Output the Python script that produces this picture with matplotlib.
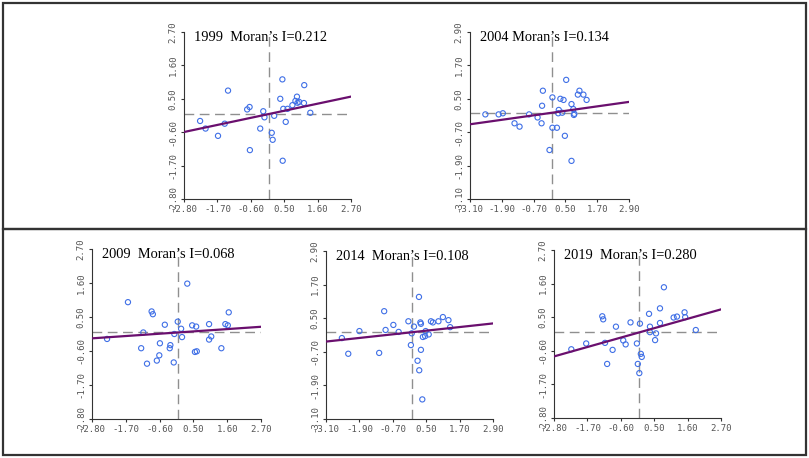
import numpy as np
import matplotlib
matplotlib.use('Agg')
import matplotlib.pyplot as plt
from matplotlib.patches import Rectangle

# === DATA (standardised values) ===
years = ['1999', '2004', '2009', '2014', '2019']
morans_i = [0.212, 0.134, 0.068, 0.108, 0.280]

x_1999 = [-2.27, -2.09, -1.68, -1.46, -1.35, -0.72, -0.64, -0.63, -0.29, -0.19,
          -0.15, 0.09, 0.12, 0.17, 0.37, 0.44, 0.45, 0.47, 0.55, 0.61,
          0.77, 0.87, 0.92, 0.94, 0.99, 1.16, 1.15, 1.36]
y_1999 = [-0.23, -0.48, -0.72, -0.32, 0.77, 0.15, 0.23, -1.19, -0.48, 0.09,
          -0.11, -0.62, -0.85, -0.06, 0.50, 1.14, -1.54, 0.17, -0.26, 0.17,
          0.29, 0.43, 0.57, 0.37, 0.40, 0.95, 0.36, 0.04]

x_2004 = [-2.52, -2.02, -1.86, -1.42, -1.23, -0.87, -0.55, -0.40, -0.38, -0.35,
          -0.10, 0.01, 0.01, 0.18, 0.23, 0.25, 0.31, 0.38, 0.43, 0.48,
          0.53, 0.73, 0.73, 0.80, 0.82, 0.84, 0.97, 1.03, 1.18, 1.30]
y_2004 = [-0.06, -0.06, -0.02, -0.38, -0.50, -0.06, -0.17, -0.38, 0.25, 0.79,
          -1.34, 0.55, -0.54, -0.54, -0.02, 0.10, 0.50, 0.00, 0.46, -0.83,
          1.18, 0.31, -1.73, 0.13, -0.08, -0.04, 0.65, 0.79, 0.65, 0.46]

x_2009 = [-2.31, -1.63, -1.20, -1.13, -1.01, -0.86, -0.82, -0.69, -0.61, -0.59,
          -0.43, -0.27, -0.25, -0.14, -0.12, -0.01, 0.10, 0.13, 0.30, 0.46,
          0.59, 0.55, 0.61, 1.01, 1.01, 1.08, 1.41, 1.54, 1.62, 1.65]
y_2009 = [-0.21, 0.98, -0.51, 0.00, -1.01, 0.68, 0.59, -0.91, -0.74, -0.35,
          0.25, -0.51, -0.41, -0.97, -0.05, 0.35, 0.12, -0.15, 1.58, 0.23,
          0.19, -0.63, -0.61, 0.27, -0.23, -0.13, -0.51, 0.27, 0.23, 0.65]

x_2014 = [-2.53, -2.30, -1.90, -1.19, -1.01, -0.96, -0.68, -0.49, -0.14, -0.05,
          -0.02, 0.06, 0.19, 0.24, 0.25, 0.29, 0.31, 0.31, 0.36, 0.38,
          0.46, 0.48, 0.59, 0.67, 0.74, 0.94, 1.10, 1.30, 1.36]
y_2014 = [-0.21, -0.77, 0.04, -0.74, 0.75, 0.08, 0.26, 0.01, 0.39, -0.46,
          -0.04, 0.20, -1.02, 1.26, -1.36, 0.35, 0.30, -0.63, -2.40, -0.17,
          -0.14, 0.04, -0.08, 0.39, 0.35, 0.39, 0.54, 0.43, 0.18]

x_2019 = [-2.23, -1.74, -1.21, -1.18, -1.12, -1.05, -0.87, -0.76, -0.52, -0.44,
          -0.28, -0.07, -0.04, 0.01, 0.03, 0.06, 0.09, 0.33, 0.36, 0.36,
          0.53, 0.56, 0.69, 0.69, 0.82, 1.14, 1.25, 1.50, 1.52, 1.87]
y_2019 = [-0.55, -0.36, 0.53, 0.43, -0.34, -1.03, -0.57, 0.19, -0.26, -0.39,
          0.33, -0.36, -1.03, -1.33, 0.29, -0.70, -0.80, 0.61, 0.19, 0.01,
          -0.25, -0.03, 0.79, 0.31, 1.48, 0.49, 0.52, 0.66, 0.50, 0.08]

ticks_a = [-2.80, -1.70, -0.60, 0.50, 1.60, 2.70]
ticks_b = [-3.10, -1.90, -0.70, 0.50, 1.70, 2.90]

xs = [x_1999, x_2004, x_2009, x_2014, x_2019]
ys = [y_1999, y_2004, y_2009, y_2014, y_2019]
tick_sets = [ticks_a, ticks_b, ticks_a, ticks_b, ticks_a]
titles = ['1999  Moran\u2019s I=0.212', '2004 Moran\u2019s I=0.134',
          '2009  Moran\u2019s I=0.068', '2014  Moran\u2019s I=0.108',
          '2019  Moran\u2019s I=0.280']

# axes boxes in pixels: left, top, right, bottom
boxes = [(184, 32, 351, 199), (470, 32, 629, 199),
         (92, 249, 261, 419), (326, 251, 493, 419),
         (554, 250, 721, 418)]

W, H = 809, 458
fig = plt.figure(figsize=(W / 100, H / 100), dpi=100)

# outer frames
for (x0, y0, x1, y1) in [(3, 3, 806, 229), (3, 229, 806, 455)]:
    fig.patches.append(Rectangle((x0 / W, 1 - y1 / H), (x1 - x0) / W, (y1 - y0) / H,
                                 transform=fig.transFigure, fill=False,
                                 edgecolor='#333333', linewidth=1.6))

for i in range(5):
    x0, y0, x1, y1 = boxes[i]
    ax = fig.add_axes([x0 / W, 1 - y1 / H, (x1 - x0) / W, (y1 - y0) / H])
    t = tick_sets[i]
    lo, hi = t[0], t[-1]

    # quadrant dividers
    ax.axvline(0, color='#8f8f8f', linestyle=(0, (7, 4)), linewidth=1.0, zorder=1)
    ax.axhline(0, color='#8f8f8f', linestyle=(0, (7, 4)), linewidth=1.0, zorder=1)

    ax.scatter(xs[i], ys[i], s=14, facecolors='none', edgecolors='#3f6fe6',
               linewidths=0.8, zorder=3)

    # fitted line, slope = Moran's I
    line_x = np.array([lo, hi])
    ax.plot(line_x, morans_i[i] * line_x, color='#6a0f6e', linewidth=1.6, zorder=4)

    ax.set_xlim(lo, hi)
    ax.set_ylim(lo, hi)
    ax.set_xticks(t)
    ax.set_yticks(t)
    ax.set_xticklabels(['%.2f' % v for v in t], family='DejaVu Sans Mono',
                       fontsize=6.5, color='#555555')
    ax.set_yticklabels(['%.2f' % v for v in t], family='DejaVu Sans Mono',
                       fontsize=6.5, color='#555555', rotation=90, va='center')
    ax.tick_params(length=2.5, width=0.8, pad=2, colors='#333333', labelcolor='#555555')
    for s in ['top', 'right']:
        ax.spines[s].set_visible(False)
    for s in ['left', 'bottom']:
        ax.spines[s].set_color('#333333')
        ax.spines[s].set_linewidth(0.8)

    ax.text(0.06, 0.97, titles[i], transform=ax.transAxes, ha='left', va='center',
            family='Liberation Serif', fontsize=10.4, color='black', zorder=5)

plt.savefig('out.png', dpi=100)
